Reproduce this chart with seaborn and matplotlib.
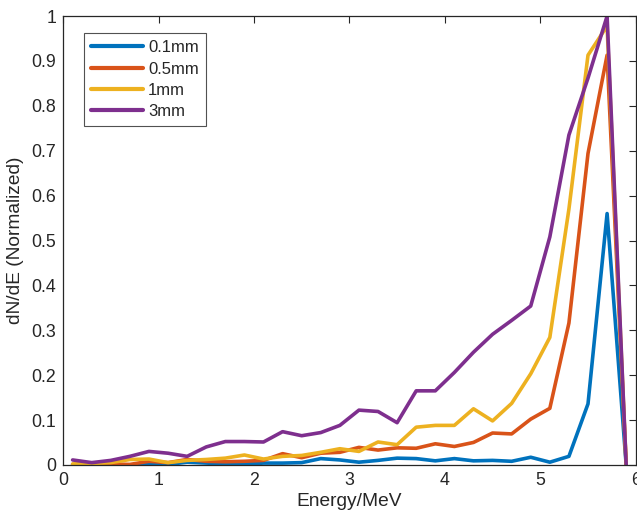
import numpy as np
import pandas as pd
import matplotlib
matplotlib.use("Agg")
import matplotlib.pyplot as plt
import seaborn as sns

energy = [0.1, 0.3, 0.5, 0.7, 0.9, 1.1, 1.3, 1.5, 1.7, 1.9,
          2.1, 2.3, 2.5, 2.7, 2.9, 3.1, 3.3, 3.5, 3.7, 3.9,
          4.1, 4.3, 4.5, 4.7, 4.9, 5.1, 5.3, 5.5, 5.7, 5.9]

t01 = [0.000, 0.000, 0.000, 0.000, 0.001, 0.001, 0.006, 0.004, 0.002, 0.002,
       0.004, 0.004, 0.005, 0.014, 0.011, 0.006, 0.010, 0.015, 0.014, 0.009,
       0.014, 0.009, 0.010, 0.008, 0.017, 0.006, 0.019, 0.136, 0.560, 0.000]
t05 = [0.001, 0.003, 0.002, 0.001, 0.008, 0.005, 0.012, 0.008, 0.007, 0.008,
       0.010, 0.025, 0.016, 0.026, 0.028, 0.039, 0.033, 0.038, 0.037, 0.047,
       0.041, 0.050, 0.071, 0.069, 0.102, 0.126, 0.316, 0.694, 0.913, 0.000]
t1 = [0.002, 0.003, 0.005, 0.012, 0.013, 0.005, 0.010, 0.012, 0.015, 0.022,
      0.013, 0.019, 0.021, 0.028, 0.036, 0.030, 0.051, 0.045, 0.084, 0.088,
      0.088, 0.125, 0.098, 0.137, 0.203, 0.284, 0.570, 0.913, 0.978, 0.000]
t3 = [0.011, 0.005, 0.010, 0.019, 0.030, 0.026, 0.019, 0.040, 0.052, 0.052,
      0.051, 0.074, 0.065, 0.072, 0.088, 0.122, 0.119, 0.094, 0.165, 0.165,
      0.206, 0.251, 0.291, 0.322, 0.354, 0.508, 0.735, 0.862, 1.000, 0.000]

labels = ["0.1mm", "0.5mm", "1mm", "3mm"]
colors = ["#0072BD", "#D95319", "#EDB120", "#7E2F8E"]
xticks = [0, 1, 2, 3, 4, 5, 6]
yticks = [0, 0.1, 0.2, 0.3, 0.4, 0.5, 0.6, 0.7, 0.8, 0.9, 1]

frames = []
for lab, vals in zip(labels, [t01, t05, t1, t3]):
    frames.append(pd.DataFrame({"Energy": energy, "dNdE": vals, "Thickness": lab}))
df = pd.concat(frames, ignore_index=True)

sns.set_style("white")
plt.rcParams["font.family"] = ["Liberation Sans", "DejaVu Sans"]
plt.rcParams["axes.edgecolor"] = "#262626"
plt.rcParams["xtick.color"] = "#262626"
plt.rcParams["ytick.color"] = "#262626"

fig = plt.figure(figsize=(6.37, 5.2), dpi=100)
ax = fig.add_axes([0.099, 0.106, 0.899, 0.863])

sns.lineplot(data=df, x="Energy", y="dNdE", hue="Thickness", hue_order=labels,
             palette=colors, linewidth=2.6, ax=ax, sort=False)

ax.set_xlim(0, 6)
ax.set_ylim(0, 1)
ax.set_xticks(xticks)
ax.set_yticks(yticks)
ax.set_xticklabels([f"{v:g}" for v in xticks])
ax.set_yticklabels([f"{v:g}" for v in yticks])
ax.tick_params(direction="in", length=5, width=0.8, top=True, right=True,
               labelsize=12.8, pad=5)
for s in ax.spines.values():
    s.set_linewidth(0.9)
    s.set_color("#262626")

ax.set_xlabel("Energy/MeV", fontsize=13.8, color="#262626", labelpad=3)
ax.set_ylabel("dN/dE (Normalized)", fontsize=13.8, color="#262626", labelpad=5)

leg = ax.legend(loc="upper left", bbox_to_anchor=(0.037, 0.962), frameon=True,
                borderaxespad=0, fontsize=12, handlelength=3.1, handletextpad=0.3,
                borderpad=0.42, labelspacing=0.38, fancybox=False)
leg.get_frame().set_edgecolor("#262626")
leg.get_frame().set_linewidth(0.8)
leg.set_title(None)
for line in leg.get_lines():
    line.set_linewidth(3)

fig.savefig("out.png", dpi=100)
